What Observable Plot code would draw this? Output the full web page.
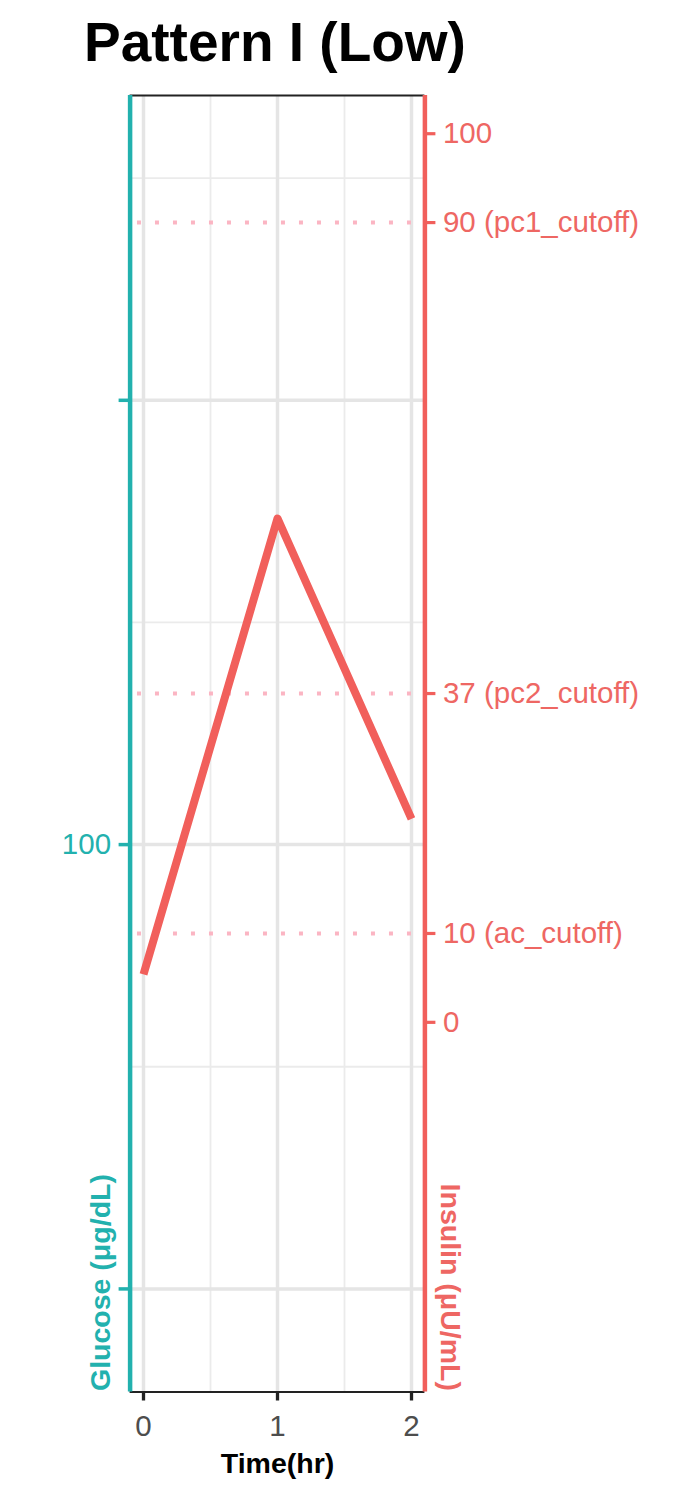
<!DOCTYPE html>
<html>
<head>
<meta charset="utf-8">
<script src="https://cdn.jsdelivr.net/npm/d3@7"></script>
<script src="https://cdn.jsdelivr.net/npm/@observablehq/plot@0.6"></script>
<style>
  html, body { margin: 0; padding: 0; background: #fff; }
  body { width: 700px; font-family: "Liberation Sans", Arial, sans-serif; }
  #title { height: 80px; box-sizing: border-box; padding: 15px 0 0 84px; font-size: 55px; line-height: 54px; font-weight: bold; color: #000; white-space: nowrap; }
  svg { display: block; }
</style>
</head>
<body>
<div id="title">Pattern I (Low)</div>
<div id="chart"></div>
<script>
// ---- data ----
const times = [0, 1, 2];
const insulin = [5.4, 56.7, 22.9];
const insulinTicks = [0, 10, 37, 90, 100];
const insulinTickLabels = ["0", "10 (ac_cutoff)", "37 (pc2_cutoff)", "90 (pc1_cutoff)", "100"];
const cutoffValues = [10, 37, 90];
const glucoseMajor = [50, 100, 150];
const glucoseMinor = [75, 125, 175];
const glucoseLabeled = [100];
const glucoseOffset = 80; // secondary axis: insulin position = glucose - 80
const xMinor = [0.5, 1.5];
const xDomain = [-0.1, 2.1];
const yDomain = [-41.6, 104.3];

const red = "#F15F5B";
const redText = "#EE6763";
const teal = "#22B1AE";
const pink = "#FBB5C3";
const fs = 29.5;
const fsTitle = 28.5;

const data = times.map((t, i) => ({time: t, insulin: insulin[i]}));
const gMajorPos = glucoseMajor.map(g => g - glucoseOffset);
const gMinorPos = glucoseMinor.map(g => g - glucoseOffset);
const labelMap = new Map(insulinTicks.map((v, i) => [v, insulinTickLabels[i]]));

const chart = Plot.plot({
  width: 700,
  height: 1420,
  marginTop: 15,
  marginBottom: 108.5,
  marginLeft: 129.6,
  marginRight: 275.6,
  style: {fontFamily: "Liberation Sans, Arial, sans-serif", fontSize: fs + "px", background: "#fff"},
  x: {domain: xDomain, axis: null},
  y: {domain: yDomain, axis: null},
  marks: [
    // grid
    Plot.ruleY(gMinorPos, {stroke: "#EBEBEB", strokeWidth: 1.8}),
    Plot.ruleX(xMinor, {stroke: "#EBEBEB", strokeWidth: 1.8}),
    Plot.ruleY(gMajorPos, {stroke: "#E5E5E5", strokeWidth: 3.5}),
    Plot.ruleX(times, {stroke: "#E5E5E5", strokeWidth: 3.5}),
    // cutoff dotted lines
    Plot.ruleY(cutoffValues, {x1: -0.045, x2: 2, stroke: pink, strokeWidth: 4, strokeDasharray: "4,14"}),
    // insulin line
    Plot.line(data, {x: "time", y: "insulin", stroke: red, strokeWidth: 8, strokeLinecap: "butt", strokeLinejoin: "round"}),
    // panel lines
    Plot.ruleY([yDomain[1]], {stroke: "#222", strokeWidth: 1.8}),
    Plot.ruleY([yDomain[0]], {stroke: "#222", strokeWidth: 1.8}),
    Plot.ruleX([xDomain[0]], {stroke: teal, strokeWidth: 4.5}),
    Plot.ruleX([xDomain[1]], {stroke: red, strokeWidth: 4.5}),
    // right axis (insulin)
    Plot.axisY(insulinTicks, {anchor: "right", color: redText, stroke: red, tickSize: 10, tickPadding: 8, strokeWidth: 3.2, fontSize: fs, tickFormat: d => labelMap.get(d), label: null}),
    // left axis (glucose)
    Plot.axisY(gMajorPos, {anchor: "left", color: teal, stroke: teal, tickSize: 11, tickPadding: 8, strokeWidth: 3.5, fontSize: fs, tickFormat: d => glucoseLabeled.includes(d + glucoseOffset) ? String(d + glucoseOffset) : "", label: null}),
    // bottom axis
    Plot.axisX(times, {anchor: "bottom", color: "#4D4D4D", stroke: "#222", tickSize: 9, tickPadding: 14, strokeWidth: 3.3, fontSize: fs, tickFormat: d3.format("d"), label: null}),
    // axis titles
    Plot.text(["Time(hr)"], {frameAnchor: "bottom", dy: 81, lineAnchor: "bottom", fontSize: fsTitle, fontWeight: "bold", fill: "#000"}),
    Plot.text(["Glucose (μg/dL)"], {frameAnchor: "bottom-left", rotate: -90, textAnchor: "start", lineAnchor: "bottom", dx: -20, dy: -1, fontSize: fsTitle, fontWeight: "bold", fill: teal}),
    Plot.text(["Insulin (μU/mL)"], {frameAnchor: "bottom-right", rotate: 90, textAnchor: "end", lineAnchor: "bottom", dx: 15.6, dy: -1, fontSize: fsTitle, fontWeight: "bold", fill: redText})
  ]
});
document.getElementById("chart").appendChild(chart);
</script>
</body>
</html>
